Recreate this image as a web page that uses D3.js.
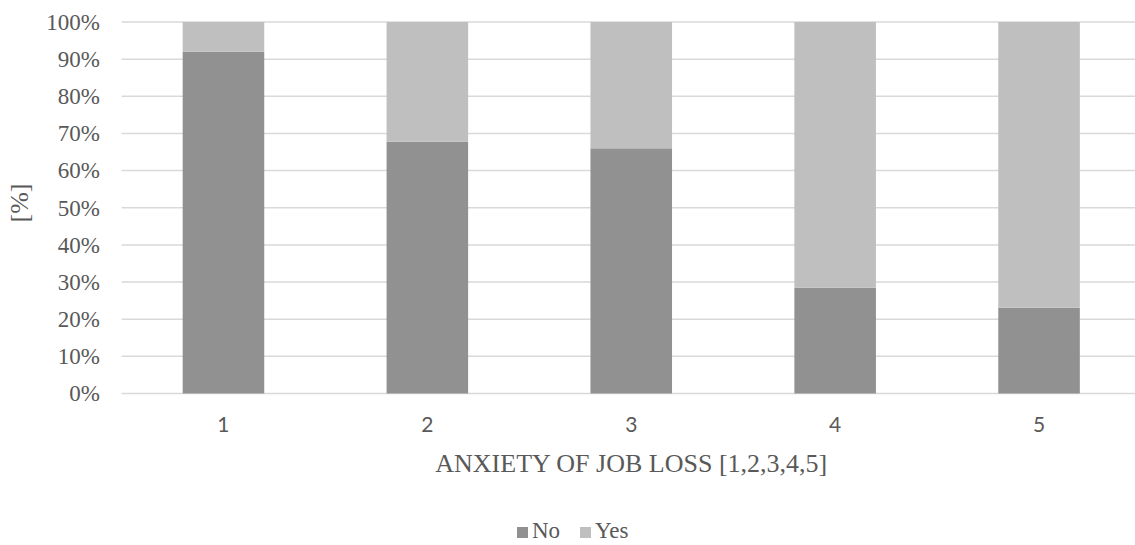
<!DOCTYPE html>
<html>
<head>
<meta charset="utf-8">
<script src="https://cdn.jsdelivr.net/npm/d3@7"></script>
<style>
  html, body { margin: 0; padding: 0; background: #fff; }
  svg { display: block; }
</style>
</head>
<body>
<svg id="chart" width="1135" height="545"></svg>
<script>
// Share of respondents (No / Yes) at each level of job-loss anxiety
const categories = ["1", "2", "3", "4", "5"];
const noValues = [92.0, 67.8, 66.0, 28.5, 23.1];
const yesValues = [8.0, 32.2, 34.0, 71.5, 76.9];
const seriesNames = ["No", "Yes"];
const seriesColors = ["#919191", "#bfbfbf"];
const yTicks = [0, 10, 20, 30, 40, 50, 60, 70, 80, 90, 100];

const svg = d3.select("#chart");
const textColor = "#595959";
const serif = "'Liberation Serif', 'Times New Roman', serif";

const plot = { left: 121.5, right: 1141, top: 22, bottom: 393.5 };

const x = d3.scaleBand()
  .domain(categories)
  .range([plot.left, plot.right])
  .paddingInner(0.6)
  .paddingOuter(0.3);

const y = d3.scaleLinear()
  .domain([0, 100])
  .range([plot.bottom, plot.top]);

// Horizontal gridlines
svg.append("g")
  .selectAll("line")
  .data(yTicks)
  .join("line")
  .attr("x1", plot.left)
  .attr("x2", plot.right)
  .attr("y1", d => y(d))
  .attr("y2", d => y(d))
  .attr("stroke", "#d9d9d9")
  .attr("stroke-width", 1.5);

// Y axis labels
const yAxis = d3.axisLeft(y)
  .tickValues(yTicks)
  .tickFormat(d => d + "%")
  .tickSize(0)
  .tickPadding(0);
const yg = svg.append("g")
  .attr("transform", `translate(${100},0)`)
  .call(yAxis);
yg.select(".domain").remove();
yg.selectAll("text")
  .attr("fill", textColor)
  .attr("font-family", serif)
  .attr("font-size", 23)
  .attr("dy", "0.32em");

// Stacked bars
const stackData = categories.map((c, i) => ({ cat: c, No: noValues[i], Yes: yesValues[i] }));
const stacked = d3.stack().keys(seriesNames)(stackData);

svg.append("g")
  .selectAll("g")
  .data(stacked)
  .join("g")
  .attr("fill", (d, i) => seriesColors[i])
  .selectAll("rect")
  .data(d => d)
  .join("rect")
  .attr("x", d => x(d.data.cat))
  .attr("width", x.bandwidth())
  .attr("y", d => y(d[1]))
  .attr("height", d => y(d[0]) - y(d[1]));

// X axis labels
const xAxis = d3.axisBottom(x).tickSize(0).tickPadding(0);
const xg = svg.append("g")
  .attr("transform", `translate(0,${431.5})`)
  .call(xAxis);
xg.select(".domain").remove();
xg.selectAll("text")
  .attr("fill", textColor)
  .attr("font-family", "Lato, 'Open Sans', sans-serif")
  .attr("font-size", 21)
  .attr("dy", 0);

// Axis titles
svg.append("text")
  .attr("x", (plot.left + plot.right) / 2)
  .attr("y", 471.5)
  .attr("text-anchor", "middle")
  .attr("fill", textColor)
  .attr("font-family", serif)
  .attr("font-size", 26)
  .text("ANXIETY OF JOB LOSS [1,2,3,4,5]");

svg.append("text")
  .attr("transform", `translate(28,${203}) rotate(-90)`)
  .attr("text-anchor", "middle")
  .attr("fill", textColor)
  .attr("font-family", serif)
  .attr("font-size", 26)
  .text("[%]");

// Legend
const legendItems = [
  { name: seriesNames[0], color: seriesColors[0], x: 517 },
  { name: seriesNames[1], color: seriesColors[1], x: 580 }
];
const lg = svg.append("g");
lg.selectAll("rect")
  .data(legendItems)
  .join("rect")
  .attr("x", d => d.x)
  .attr("y", 527)
  .attr("width", 11)
  .attr("height", 11)
  .attr("fill", d => d.color);
lg.selectAll("text")
  .data(legendItems)
  .join("text")
  .attr("x", d => d.x + 15)
  .attr("y", 538)
  .attr("fill", textColor)
  .attr("font-family", serif)
  .attr("font-size", 23)
  .text(d => d.name);
</script>
</body>
</html>
